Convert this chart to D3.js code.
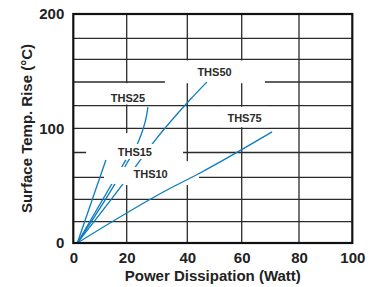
<!DOCTYPE html>
<html><head><meta charset="utf-8">
<script src="https://cdn.jsdelivr.net/npm/d3@7/dist/d3.min.js"></script>
<style>body{margin:0;background:#fff}svg{display:block}</style>
</head><body>
<svg id="c" width="377" height="287"></svg>
<script>
// ---------- data ----------
const xTicks = [0, 20, 40, 60, 80, 100];
const yTickLabels = [0, 100, 200];
const yGridValues = [0, 20, 40, 60, 80, 100, 120, 140, 160, 180, 200];
const xTitle = "Power Dissipation (Watt)";
const yTitle = "Surface Temp. Rise (°C)";

const seriesNames = ["THS10", "THS15", "THS25", "THS50", "THS75"];
const ths10 = [[1.5, 0], [12.2, 74]];
const ths15 = [[1.5, 0], [19.7, 74]];
const ths25 = [[1.5, 0], [15.6, 54], [20.1, 71.5], [23.7, 88], [25.3, 98.6], [26.6, 111.8], [27.0, 118.8]];
const ths50 = [[1.5, 0], [18.6, 54], [28.7, 88], [41.0, 125], [47.2, 140]];
const ths75 = [[1.5, 0], [33.3, 48.5], [44.7, 63.5], [70.6, 97]];
const seriesValues = [ths10, ths15, ths25, ths50, ths75];

// label anchor points (data units)
const labelNames = ["THS25", "THS15", "THS10", "THS50", "THS75"];
const labelX = [20.4, 22.7, 27.9, 50.0, 61.0];
const labelY = [126.9, 80.4, 62.7, 148.8, 109.1];

// ---------- layout ----------
const svg = d3.select("#c");
const x = d3.scaleLinear().domain(xTicks).range([73.3, 126.7, 187.3, 241.7, 299, 352.3]);
const y = d3.scaleLinear().domain(yGridValues)
  .range([243, 221.7, 199.3, 177.3, 152.5, 128.3, 105.7, 82, 59.3, 38.3, 14]);

const font = "'Liberation Sans', Arial, Helvetica, sans-serif";
const ink = "#222";
const gridColor = "#2b2b2b";
const blue = "#0a7cc1";

// white areas that interrupt the grid around the labels (data units)
const gridBreaks = [
  {x0: 32.6, x1: 68.1, y0: 159, y1: 139},  // THS50
  {x0: 10.0, x1: 32.6, y0: 139, y1: 121},  // THS25
  {x0: 52.8, x1: 69.2, y0: 119, y1: 101},  // THS75
  {x0: 4.8,  x1: 38.6, y0: 96,  y1: 73},   // THS15
  {x0: 11.5, x1: 44.3, y0: 73,  y1: 53}    // THS10
];
// white areas that interrupt the curves around the labels
const lineMasks = [
  {x0: 14.5, x1: 31.6, y0: 87,   y1: 74.8},
  {x0: 12.7, x1: 33.0, y0: 68.3, y1: 53.9}
];

// grid
const g = svg.append("g");
g.selectAll("line.v").data(xTicks.slice(1, -1)).join("line")
  .attr("x1", d => x(d)).attr("x2", d => x(d))
  .attr("y1", y(0)).attr("y2", y(200))
  .attr("stroke", gridColor).attr("stroke-width", 1.3);
g.selectAll("line.h").data(yGridValues.slice(1, -1)).join("line")
  .attr("y1", d => y(d)).attr("y2", d => y(d))
  .attr("x1", x(0)).attr("x2", x(100))
  .attr("stroke", gridColor).attr("stroke-width", 1.3);

function rects(sel, arr) {
  sel.selectAll("rect").data(arr).join("rect")
    .attr("x", d => x(d.x0)).attr("y", d => y(d.y0))
    .attr("width", d => x(d.x1) - x(d.x0))
    .attr("height", d => y(d.y1) - y(d.y0))
    .attr("fill", "#fff");
}
rects(svg.append("g"), gridBreaks);

// curves
const line = d3.line().x(d => x(d[0])).y(d => y(d[1])).curve(d3.curveMonotoneX);
svg.append("g").selectAll("path").data(seriesValues).join("path")
  .attr("d", line).attr("fill", "none")
  .attr("stroke", blue).attr("stroke-width", 1.3);

rects(svg.append("g"), lineMasks);

// labels
svg.append("g").selectAll("text").data(labelNames).join("text")
  .attr("x", (d, i) => x(labelX[i])).attr("y", (d, i) => y(labelY[i]))
  .attr("text-anchor", "middle").attr("dominant-baseline", "central")
  .attr("font-family", font).attr("font-weight", "bold").attr("font-size", 11)
  .attr("fill", "#2a2a2a").text(d => d);

// frame
svg.append("rect")
  .attr("x", x(0)).attr("y", y(200))
  .attr("width", x(100) - x(0)).attr("height", y(0) - y(200))
  .attr("fill", "none").attr("stroke", "#111").attr("stroke-width", 2.2);

// axes
const xa = svg.append("g").attr("transform", `translate(0,${y(0)})`)
  .call(d3.axisBottom(x).tickValues(xTicks).tickSize(0).tickPadding(9).tickFormat(d3.format("d")));
const ya = svg.append("g").attr("transform", `translate(${x(0)},0)`)
  .call(d3.axisLeft(y).tickValues(yTickLabels).tickSize(0).tickPadding(9).tickFormat(d3.format("d")));
[xa, ya].forEach(a => {
  a.select(".domain").remove();
  a.selectAll("text").attr("font-family", font).attr("font-weight", "bold")
    .attr("font-size", 15).attr("fill", ink);
});

// titles
svg.append("text").attr("x", (x(0) + x(100)) / 2).attr("y", 281)
  .attr("text-anchor", "middle").attr("font-family", font).attr("font-weight", "bold")
  .attr("font-size", 15).attr("fill", ink).text(xTitle);
svg.append("text").attr("transform", `translate(31.5,${(y(0) + y(200)) / 2}) rotate(-90)`)
  .attr("text-anchor", "middle").attr("font-family", font).attr("font-weight", "bold")
  .attr("font-size", 15).attr("fill", ink).text(yTitle);
</script>
</body></html>
